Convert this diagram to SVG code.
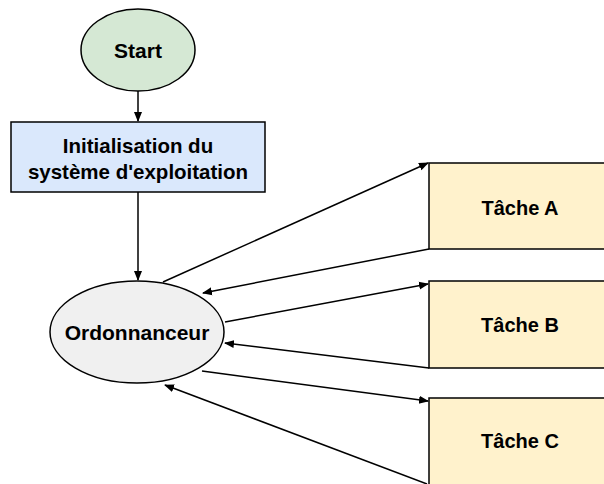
<svg xmlns="http://www.w3.org/2000/svg" width="604" height="484" viewBox="0 0 604 484">
  <style>
    .lbl { font-family: "Liberation Sans", Arial, sans-serif; font-weight: bold; font-size: 20px; fill: #000; text-anchor: middle; dominant-baseline: central; }
    .shape { stroke: #000; stroke-width: 1.5; }
    .edge { stroke: #000; stroke-width: 1.5; fill: none; marker-end: url(#arrow); }
  </style>
  <defs>
    <marker id="arrow" viewBox="0 0 10 10" refX="9" refY="5" markerWidth="10" markerHeight="10" markerUnits="userSpaceOnUse" orient="auto">
      <path d="M0,1 L10,5 L0,9 Z" fill="#000"/>
    </marker>
  </defs>

  <g id="start">
    <ellipse class="shape" cx="138" cy="50" rx="57" ry="41" fill="#d5e8d4"/>
    <text class="lbl" x="138" y="50" style="font-size:21px">Start</text>
  </g>

  <g id="init">
    <rect class="shape" x="11" y="122" width="254" height="70" fill="#dae8fc"/>
    <text class="lbl" x="138" y="145" style="font-size:20.5px">Initialisation du</text>
    <text class="lbl" x="138" y="171" style="font-size:20.5px">système d'exploitation</text>
  </g>

  <g id="ordonnanceur">
    <ellipse class="shape" cx="137" cy="332" rx="87" ry="51" fill="#f0f0f0"/>
    <text class="lbl" x="137" y="332" style="font-size:21px">Ordonnanceur</text>
  </g>

  <g id="tache-a">
    <rect class="shape" x="429" y="163" width="182" height="86" fill="#fff2cc"/>
    <text class="lbl" x="520" y="208">Tâche A</text>
  </g>

  <g id="tache-b">
    <rect class="shape" x="429" y="281" width="182" height="87" fill="#fff2cc"/>
    <text class="lbl" x="520" y="325">Tâche B</text>
  </g>

  <g id="tache-c">
    <rect class="shape" x="429" y="398" width="182" height="100" fill="#fff2cc"/>
    <text class="lbl" x="520" y="441">Tâche C</text>
  </g>

  <g id="connectors">
    <line class="edge" x1="138" y1="91" x2="138" y2="121"/>
    <line class="edge" x1="138" y1="192" x2="138" y2="280"/>
    <line class="edge" x1="163" y1="282" x2="428" y2="163"/>
    <line class="edge" x1="429" y1="249" x2="203" y2="293"/>
    <line class="edge" x1="225" y1="322" x2="428" y2="284"/>
    <line class="edge" x1="429" y1="368" x2="225" y2="343"/>
    <line class="edge" x1="202" y1="371" x2="428" y2="401"/>
    <line class="edge" x1="427" y1="484" x2="165" y2="385"/>
  </g>
</svg>
